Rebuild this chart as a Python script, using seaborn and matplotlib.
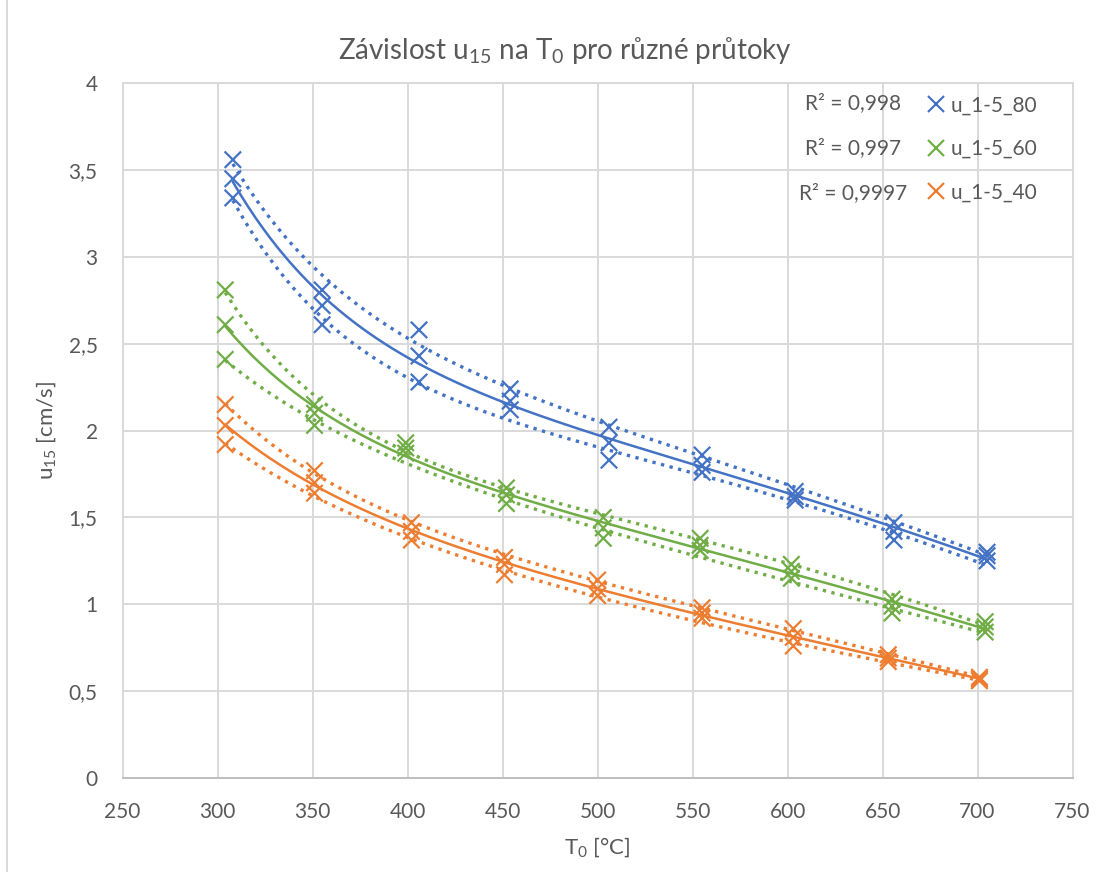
import matplotlib

matplotlib.use("Agg")

import matplotlib.pyplot as plt
import numpy as np
import pandas as pd
import seaborn as sns
from matplotlib.lines import Line2D
from matplotlib.ticker import FuncFormatter, MultipleLocator

# values
series_names = ["u_1-5_80", "u_1-5_60", "u_1-5_40"]
series_colors = ["#4472C4", "#70AD47", "#ED7D31"]
r2_labels = ["R² = 0,998", "R² = 0,997", "R² = 0,9997"]

t_80 = [308, 355, 406, 454, 506, 555, 604, 656, 705]
u80_hi = [3.56, 2.81, 2.58, 2.24, 2.02, 1.86, 1.65, 1.47, 1.30]
u80_mid = [3.45, 2.72, 2.43, 2.17, 1.93, 1.80, 1.62, 1.42, 1.28]
u80_lo = [3.34, 2.61, 2.28, 2.12, 1.83, 1.76, 1.60, 1.37, 1.25]

t_60 = [304, 351, 399, 452, 503, 554, 602, 655, 704]
u60_hi = [2.81, 2.15, 1.93, 1.67, 1.50, 1.38, 1.23, 1.03, 0.90]
u60_mid = [2.61, 2.10, 1.90, 1.63, 1.44, 1.34, 1.19, 0.99, 0.87]
u60_lo = [2.41, 2.03, 1.87, 1.58, 1.38, 1.31, 1.15, 0.95, 0.84]

t_40 = [304, 351, 402, 451, 500, 555, 603, 653, 701]
u40_hi = [2.15, 1.77, 1.47, 1.27, 1.14, 0.98, 0.86, 0.71, 0.58]
u40_mid = [2.03, 1.70, 1.42, 1.23, 1.09, 0.95, 0.81, 0.69, 0.57]
u40_lo = [1.92, 1.64, 1.37, 1.17, 1.05, 0.92, 0.76, 0.67, 0.56]

temps = [t_80, t_60, t_40]
bands = [
    {"hi": u80_hi, "mid": u80_mid, "lo": u80_lo},
    {"hi": u60_hi, "mid": u60_mid, "lo": u60_lo},
    {"hi": u40_hi, "mid": u40_mid, "lo": u40_lo},
]

TEXT = "#595959"
GRID = "#D9D9D9"


def basis(t: np.ndarray) -> np.ndarray:
    return np.column_stack([np.ones_like(t), t, 1.0 / t, 1.0 / t**2])


def build_frames() -> tuple[pd.DataFrame, pd.DataFrame]:
    points = []
    fits = []
    for name, t, b in zip(series_names, temps, bands):
        t = np.asarray(t, dtype=float)
        t_fine = np.linspace(t.min(), t.max(), 200)
        for band, u in b.items():
            u = np.asarray(u, dtype=float)
            points.append(pd.DataFrame({"T": t, "u": u, "series": name, "band": band}))
            # smooth trendline fitted to the points (least squares)
            coef, *_ = np.linalg.lstsq(basis(t), u, rcond=None)
            fits.append(pd.DataFrame({"T": t_fine, "u": basis(t_fine) @ coef, "series": name, "band": band}))
    return pd.concat(points, ignore_index=True), pd.concat(fits, ignore_index=True)


def main() -> int:
    sns.set_theme(style="white")
    plt.rcParams["font.family"] = ["Lato", "DejaVu Sans"]
    plt.rcParams["mathtext.fontset"] = "custom"
    plt.rcParams["mathtext.rm"] = "Lato"

    points, fits = build_frames()
    palette = dict(zip(series_names, series_colors))

    fig = plt.figure(figsize=(11.08, 8.72), dpi=100)
    ax = fig.add_axes([0.1107, 0.1078, 0.8573, 0.7967])

    for band, style in [("mid", "-"), ("hi", ":"), ("lo", ":")]:
        sub = fits[fits["band"] == band]
        sns.lineplot(data=sub, x="T", y="u", hue="series", palette=palette, ax=ax,
                     linewidth=1.8 if band == "mid" else 2.4, linestyle=style,
                     legend=False, sort=False, estimator=None)

    sns.scatterplot(data=points, x="T", y="u", hue="series", palette=palette, ax=ax,
                    marker="x", s=140, linewidth=1.6, legend=False, zorder=3)

    ax.set_xlim(250, 750)
    ax.set_ylim(0, 4)
    ax.xaxis.set_major_locator(MultipleLocator(50))
    ax.yaxis.set_major_locator(MultipleLocator(0.5))
    ax.yaxis.set_major_formatter(FuncFormatter(lambda v, _: f"{v:g}".replace(".", ",")))
    ax.grid(True, color=GRID, linewidth=1.4)
    ax.set_axisbelow(True)
    for side in ["left", "top", "right"]:
        ax.spines[side].set_color(GRID)
        ax.spines[side].set_linewidth(1.4)
    ax.spines["bottom"].set_color("#BFBFBF")
    ax.spines["bottom"].set_linewidth(1.4)
    ax.tick_params(axis="both", colors=TEXT, labelsize=15, length=0)
    ax.tick_params(axis="x", pad=17)
    ax.tick_params(axis="y", pad=18)

    ax.set_xlabel(r"$\mathregular{T_0}$ [°C]", fontsize=16, color=TEXT, labelpad=10)
    ax.set_ylabel(r"$\mathregular{u_{15}}$ [cm/s]", fontsize=16, color=TEXT, labelpad=8)
    fig.text(565 / 1108, 1 - 50 / 872,
             r"Závislost $\mathregular{u_{15}}$ na $\mathregular{T_0}$ pro různé průtoky",
             fontsize=20, color=TEXT, ha="center", va="center")

    handles = [Line2D([], [], linestyle="none", marker="x", markersize=11, markeredgewidth=1.6, color=c)
               for c in series_colors]
    leg = ax.legend(handles, series_names, loc="upper left", bbox_to_anchor=(0.83, 1.0),
                    frameon=False, fontsize=15, labelspacing=1.12, handletextpad=0.1,
                    handlelength=1.2, borderaxespad=0.2)
    for txt in leg.get_texts():
        txt.set_color(TEXT)

    for i, label in enumerate(r2_labels):
        ax.text(0.769, 0.972 - i * 0.065, label, transform=ax.transAxes, ha="center", va="center",
                fontsize=15, color=TEXT)

    fig.add_artist(Line2D([7 / 1108, 7 / 1108], [0, 1], color=GRID, linewidth=1.4))

    fig.savefig("out.png", dpi=100)
    plt.close(fig)
    return 0


if __name__ == "__main__":
    raise SystemExit(main())
